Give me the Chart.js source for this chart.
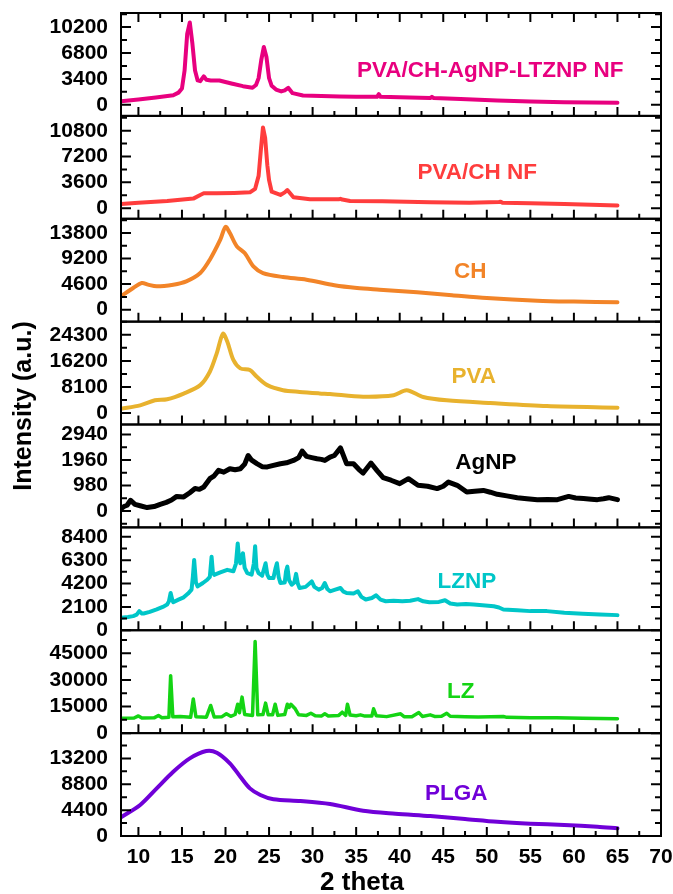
<!DOCTYPE html>
<html>
<head>
<meta charset="utf-8">
<script src="https://cdn.jsdelivr.net/npm/chart.js@4/dist/chart.umd.min.js"></script>
<style>
  html, body { margin: 0; padding: 0; background: #fff; }
  #wrap { width: 673px; height: 894px; position: relative; }
</style>
</head>
<body>
<div id="wrap"><canvas id="xrdChart"></canvas></div>
<script>
// Panel names, top to bottom
const panelNames = ['PVA/CH-AgNP-LTZNP NF', 'PVA/CH NF', 'CH', 'PVA', 'AgNP', 'LZNP', 'LZ', 'PLGA'];
const panelColors = ['#e8007f', '#ff3d3d', '#f28428', '#e8b22e', '#000000', '#00c6c8', '#14d414', '#7000d8'];

// Y axis ranges and labelled tick step for each panel
const panelMins = [-1450, -1480, -2160, -3540, -630, 0, 0, 0];
const panelMaxes = [12050, 12870, 16380, 28380, 3320, 9250, 58000, 17500];
const majorSteps = [3400, 3600, 4600, 8100, 980, 2100, 15000, 4400];

// X axis (2 theta)
const xMin = 8;
const xMax = 70;
const xMajor = 5;

// Diffraction patterns as [2theta, intensity]
const compositeNF = [[8,480],[10,700],[12,950],[14,1250],[14.6,1600],[15.0,2150],[15.3,4500],[15.6,9300],[15.9,10800],[16.2,8000],[16.5,4500],[16.8,3200],[17.1,3100],[17.5,3740],[17.8,3300],[18.3,3200],[19.3,3200],[20.8,2770],[22.0,2450],[23.1,2240],[23.5,2600],[23.8,3500],[24.1,5850],[24.4,7600],[24.7,6280],[25.0,3500],[25.3,2500],[25.8,2000],[26.4,1760],[26.8,1900],[27.2,2240],[27.7,1530],[28.9,1230],[31,1150],[33.1,1100],[35,1050],[37.4,1050],[37.6,1400],[37.8,1050],[40,980],[43.5,900],[43.7,1050],[43.9,900],[47,750],[51.2,570],[55,450],[58.9,340],[62,300],[65,260]];
const pvaChNF = [[8,590],[10,750],[13.3,1000],[16.3,1330],[17.1,1840],[17.5,2070],[19,2070],[21,2120],[22.8,2200],[23.4,2700],[23.8,4500],[24.05,8000],[24.3,11260],[24.55,9800],[24.8,6000],[25.0,3900],[25.3,2290],[26.3,1840],[26.8,2200],[27.1,2530],[27.8,1520],[29.7,1240],[33.0,1240],[33.2,1300],[33.4,1200],[34.3,1000],[38,950],[43.5,830],[48,760],[51.4,850],[51.6,900],[51.8,760],[55,680],[58.9,590],[62,480],[65,360]];
const chitosan = [[8,2400],[9.4,3900],[10.4,4800],[11.1,4500],[12.1,4200],[14.0,4500],[15.5,5100],[17.1,6600],[18.2,9000],[19.4,12600],[20.0,14900],[20.5,13800],[21.3,11400],[22.2,10200],[23.2,7800],[24.3,6600],[26.6,5880],[29.3,5400],[32.5,4400],[35.1,3900],[37.7,3600],[42,3120],[46,2600],[50,2100],[55.8,1620],[60,1450],[65,1320]];
const pva = [[8,1370],[10.2,2400],[11.9,3970],[13.3,4280],[15.2,6060],[17.1,8670],[18.2,12830],[19.0,18590],[19.7,24630],[20.2,22220],[20.9,16490],[21.7,13880],[22.8,13360],[23.6,11260],[24.8,8670],[26.6,7100],[28.5,6570],[30.8,6100],[32,5900],[35.8,5100],[39.3,5540],[40.8,7100],[42.7,5010],[45.4,3970],[50.4,3130],[56.9,2190],[65,1690]];
const agnp = [[8,90],[8.4,180],[8.7,220],[9.1,410],[9.6,255],[10.2,200],[11.0,130],[11.8,170],[12.5,255],[13.2,330],[13.8,420],[14.4,560],[15.2,540],[15.9,700],[16.5,860],[17.0,830],[17.5,920],[18.2,1240],[18.7,1350],[19.2,1560],[19.8,1490],[20.5,1620],[21.1,1580],[21.7,1620],[22.2,1800],[22.6,2130],[23.0,1950],[23.6,1815],[24.2,1700],[24.8,1690],[25.5,1750],[26.3,1815],[27.0,1850],[27.8,1940],[28.4,2050],[28.8,2300],[29.3,2095],[29.9,2050],[30.5,2005],[31.0,1980],[31.4,1940],[32.0,2070],[32.5,2130],[33.2,2420],[33.9,1815],[34.7,1815],[35.3,1600],[35.8,1455],[36.7,1840],[37.4,1550],[38.1,1280],[39.0,1180],[40.0,1050],[41.0,1240],[42.1,985],[43.2,950],[44.3,860],[45.0,950],[45.6,1110],[46.6,985],[47.7,730],[48.6,760],[49.6,790],[50.4,720],[51.2,640],[52.3,580],[53.5,510],[54.6,470],[55.8,435],[57.0,440],[58.1,435],[59.4,560],[60.2,500],[61.1,475],[62.0,450],[62.7,435],[63.4,470],[64.0,510],[65,435]];
const lznp = [[8,1130],[8.8,1200],[9.4,1270],[9.8,1400],[10.1,1720],[10.4,1500],[10.6,1510],[11.3,1650],[12.1,1870],[12.8,2100],[13.3,2310],[13.5,2600],[13.7,3350],[13.9,2700],[14.0,2520],[14.6,2750],[15.2,2960],[15.7,3300],[16.1,3650],[16.25,4800],[16.4,6320],[16.6,4300],[16.8,3940],[17.4,4250],[17.9,4540],[18.2,4800],[18.4,6610],[18.55,5200],[18.7,4980],[19.4,5200],[20.2,5430],[20.9,5300],[21.2,6000],[21.4,7800],[21.55,6500],[21.7,6030],[21.85,6600],[22.0,6920],[22.2,5600],[22.5,5130],[23.0,5000],[23.25,6000],[23.4,7560],[23.55,5600],[23.8,5130],[24.2,4900],[24.45,5600],[24.6,6030],[24.8,5000],[25.0,4690],[25.5,4700],[25.75,5600],[25.9,6030],[26.1,4800],[26.3,4250],[26.8,4300],[26.95,5300],[27.1,5720],[27.3,4500],[27.6,4090],[27.9,4300],[28.1,5070],[28.3,4200],[28.5,3800],[29.2,3900],[29.9,4390],[30.2,3900],[30.7,3650],[31.1,3800],[31.4,4250],[31.7,3700],[32.0,3500],[32.6,3650],[33.2,3800],[33.5,3500],[33.9,3350],[34.7,3300],[35.2,3500],[35.6,3000],[36.1,2760],[36.8,2900],[37.3,3140],[37.8,2750],[38.4,2610],[39.3,2650],[40.3,2610],[41.2,2650],[42.1,2800],[42.7,2600],[43.4,2520],[44.5,2550],[45.2,2700],[45.8,2400],[46.6,2310],[47.6,2350],[48.5,2310],[49.5,2250],[50.8,2160],[51.4,2050],[51.9,1870],[53.5,1800],[55.0,1720],[56.9,1720],[58.9,1575],[61,1480],[63,1420],[65,1360]];
const lz = [[8,8400],[9.5,8500],[10,9700],[10.4,8500],[11.8,8600],[12.3,9900],[12.7,8700],[13.5,9000],[13.7,32400],[13.95,9200],[14.8,9400],[16.0,9000],[16.3,19300],[16.6,9200],[17.8,9000],[18.3,15600],[18.7,9100],[19.6,9300],[20.1,10900],[20.6,9500],[21.1,10500],[21.4,16300],[21.6,11500],[21.9,20300],[22.2,10500],[23.1,10000],[23.4,51600],[23.7,10300],[24.3,10500],[24.6,16900],[24.9,10300],[25.4,10300],[25.7,16300],[26.0,10000],[26.8,10500],[27.1,16300],[27.3,14500],[27.5,16300],[28.0,13700],[28.4,10300],[29.3,10000],[29.8,11200],[30.3,9800],[31.0,9600],[31.4,10900],[31.8,9700],[33.0,10000],[33.4,11800],[33.8,10000],[34.0,16300],[34.3,10200],[35.0,9800],[35.5,10300],[36.0,9600],[36.8,9600],[37.0,13700],[37.3,9800],[38.5,9300],[40.1,10900],[40.5,9300],[41.4,9200],[42.2,11600],[42.6,9400],[43.5,10300],[44.0,9400],[44.8,9500],[45.4,11200],[45.8,9500],[47.5,9300],[49,9100],[51.9,9400],[52.3,8900],[55,8700],[58,8600],[61,8400],[65,8060]];
const plga = [[8,3180],[10.2,5270],[12.1,8100],[14.0,10930],[15.9,13200],[17.8,14450],[19.0,14160],[20.5,12360],[21.7,10080],[22.8,8100],[24.0,6970],[25.5,6240],[28.6,5950],[32.0,5440],[35.8,4300],[39.5,3800],[43.5,3400],[47.5,2900],[51.2,2430],[55,2100],[58.9,1870],[62.7,1580],[65,1310]];

const panelSeries = [compositeNF, pvaChNF, chitosan, pva, agnp, lznp, lz, plga];
const smoothPanels = [false, false, true, true, false, false, false, true];

// Where each sample name sits: 2theta and fraction down the panel
const labelAt = [[50.4, 0.56], [48.9, 0.55], [48.1, 0.52], [48.5, 0.54], [49.9, 0.37], [47.7, 0.53], [47.0, 0.60], [46.5, 0.59]];

const FONT = '"Liberation Sans", Arial, Helvetica, sans-serif';
const panelIds = panelNames.map((n, i) => 'y' + i);

// Major + minor (half step) tick values inside [lo, hi]
function tickValues(lo, hi, major) {
    const half = major / 2;
    const out = [];
    for (let k = Math.ceil(lo / half); k * half <= hi; k++) {
        out.push({ value: k * half });
    }
    return out;
}

// Label overflow padding would shrink the plot area, drop it
function noPadding(s) {
    s.paddingTop = 0;
    s.paddingBottom = 0;
    s.paddingLeft = 0;
    s.paddingRight = 0;
}

// Build the datasets
const datasets = panelSeries.map((pts, i) => ({
    label: panelNames[i],
    data: pts.map(p => ({ x: p[0], y: p[1] })),
    yAxisID: panelIds[i],
    borderColor: panelColors[i],
    borderWidth: i === 4 ? 5 : (i === 6 ? 3.5 : 4),
    pointRadius: 0,
    fill: false,
    tension: smoothPanels[i] ? 0.3 : 0,
    borderJoinStyle: 'round',
    borderCapStyle: 'round'
}));

// Build the x scale and the stacked y scales
const scales = {
    x: {
        type: 'linear',
        min: xMin,
        max: xMax,
        grid: { display: false, drawTicks: false },
        border: { display: false },
        afterBuildTicks: s => { s.ticks = tickValues(xMin, xMax, xMajor).filter(t => t.value > xMin); },
        ticks: {
            autoSkip: false,
            maxRotation: 0,
            padding: 9,
            color: '#000',
            font: { family: FONT, size: 21, weight: 'bold' },
            callback: v => (v % xMajor === 0 ? v : '')
        },
        afterFit: s => { s.height = 58; noPadding(s); }
    }
};
panelIds.forEach((id, i) => {
    scales[id] = {
        type: 'linear',
        position: 'left',
        stack: 'panels',
        stackWeight: 1,
        weight: panelIds.length - i,
        min: panelMins[i],
        max: panelMaxes[i],
        grid: { display: false, drawTicks: false },
        border: { display: false },
        afterBuildTicks: s => { s.ticks = tickValues(panelMins[i], panelMaxes[i], majorSteps[i]); },
        ticks: {
            autoSkip: false,
            padding: 13,
            color: '#000',
            font: { family: FONT, size: 21, weight: 'bold' },
            callback: v => (v % majorSteps[i] === 0 ? v : '')
        },
        afterFit: s => { s.width = 121; noPadding(s); }
    };
});

// Frames, inward tick marks, sample names and axis titles
const framePlugin = {
    id: 'frames',
    afterDatasetsDraw(chart) {
        const ctx = chart.ctx;
        const area = chart.chartArea;
        const xs = chart.scales.x;
        ctx.save();
        ctx.strokeStyle = '#000';
        ctx.lineWidth = 2;
        panelIds.forEach((id, i) => {
            const s = chart.scales[id];
            ctx.strokeRect(area.left, s.top, area.right - area.left, s.bottom - s.top);
            ctx.beginPath();
            s.ticks.forEach(t => {
                const y = s.getPixelForValue(t.value);
                const len = t.value % majorSteps[i] === 0 ? 10 : 6;
                ctx.moveTo(area.left, y); ctx.lineTo(area.left + len, y);
                ctx.moveTo(area.right, y); ctx.lineTo(area.right - len, y);
            });
            xs.ticks.forEach(t => {
                const x = xs.getPixelForValue(t.value);
                const len = t.value % xMajor === 0 ? 9 : 5;
                ctx.moveTo(x, s.bottom); ctx.lineTo(x, s.bottom - len);
                if (i === 0) { ctx.moveTo(x, s.top); ctx.lineTo(x, s.top + len); }
            });
            ctx.stroke();

            // sample name
            ctx.fillStyle = panelColors[i];
            ctx.font = 'bold 22.5px ' + FONT;
            ctx.textAlign = 'center';
            ctx.textBaseline = 'middle';
            ctx.fillText(panelNames[i], xs.getPixelForValue(labelAt[i][0]), s.top + labelAt[i][1] * (s.bottom - s.top));
        });

        ctx.fillStyle = '#000';
        ctx.font = 'bold 26px ' + FONT;
        ctx.textAlign = 'center';
        ctx.textBaseline = 'middle';
        ctx.fillText('2 theta', 362, 883);

        ctx.translate(24, 406);
        ctx.rotate(-Math.PI / 2);
        ctx.font = 'bold 25px ' + FONT;
        ctx.fillText('Intensity (a.u.)', 0, 0);
        ctx.restore();
    }
};

new Chart(document.getElementById('xrdChart'), {
    type: 'line',
    data: { datasets: datasets },
    options: {
        responsive: true,
        maintainAspectRatio: false,
        animation: false,
        layout: { padding: { left: 0, top: 13, right: 12, bottom: 0 } },
        plugins: {
            legend: { display: false },
            tooltip: { enabled: false }
        },
        scales: scales
    },
    plugins: [framePlugin]
});
</script>
</body>
</html>
